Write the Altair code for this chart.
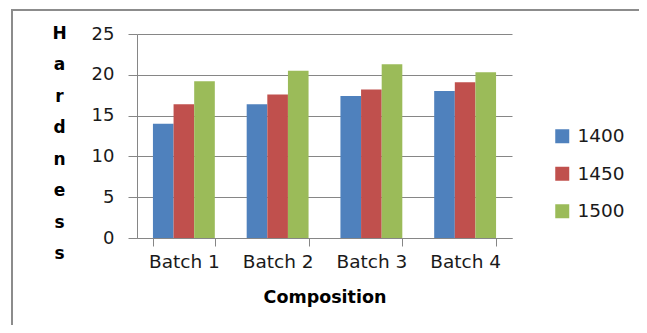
import altair as alt
import pandas as pd

batches = ["Batch 1", "Batch 2", "Batch 3", "Batch 4"]
series = ["1400", "1450", "1500"]
v1400 = [14.0, 16.4, 17.4, 18.0]
v1450 = [16.4, 17.6, 18.2, 19.1]
v1500 = [19.2, 20.5, 21.3, 20.3]
colors = ["#4F81BD", "#C0504D", "#9BBB59"]
y_ticks = [0, 5, 10, 15, 20, 25]

rows = []
for s, vals in zip(series, [v1400, v1450, v1500]):
    for b, v in zip(batches, vals):
        rows.append({"Composition": b, "Series": s, "Hardness": v})
df = pd.DataFrame(rows)

FONT = "DejaVu Sans"

bars = alt.Chart(df).mark_bar().encode(
    x=alt.X("Composition:N", sort=batches,
            scale=alt.Scale(paddingInner=0.34, paddingOuter=0.17),
            axis=alt.Axis(title="Composition", labelAngle=0, tickBand="extent",
                          tickSize=8, labelPadding=6, titleY=50,
                          labelFontSize=18.5, titleFontSize=17.5, titleFontWeight="bold")),
    xOffset=alt.XOffset("Series:N", sort=series),
    y=alt.Y("Hardness:Q", scale=alt.Scale(domain=[0, 25]),
            axis=alt.Axis(values=y_ticks, title=["H", "a", "r", "d", "n", "e", "s", "s"],
                          titleAngle=0, titleAlign="center", titleBaseline="top",
                          titleX=-78, titleY=-9, titleLineHeight=31.5,
                          titleFontSize=17, titleFontWeight="bold",
                          tickSize=9, labelPadding=14, labelFontSize=18)),
    color=alt.Color("Series:N", sort=series,
                    scale=alt.Scale(domain=series, range=colors),
                    legend=alt.Legend(title=None, orient="none", legendX=416, legendY=93,
                                      symbolType="square", symbolSize=196,
                                      symbolStrokeWidth=0, labelFontSize=18.5,
                                      labelOffset=6, rowPadding=18.5)),
)

border = alt.Chart(alt.Data(values=[{}])).mark_rect(
    fill=None, stroke="#8c8c8c", strokeWidth=2
).encode(x=alt.value(-125), x2=alt.value(700), y=alt.value(-24), y2=alt.value(500))

chart = alt.layer(border, bars).properties(
    width=375, height=204,
    autosize=alt.AutoSizeParams(type="none"),
    padding={"left": 129, "top": 26, "right": 127, "bottom": 87},
).configure(font=FONT).configure_view(stroke=None).configure_axis(
    domainColor="#868686", gridColor="#868686", tickColor="#868686",
    labelColor="#1a1a1a", titleColor="#000", labelFont=FONT, titleFont=FONT,
).configure_legend(labelColor="#1a1a1a", labelFont=FONT)

chart.save("out.html", embed_options={"renderer": "svg", "actions": False})
